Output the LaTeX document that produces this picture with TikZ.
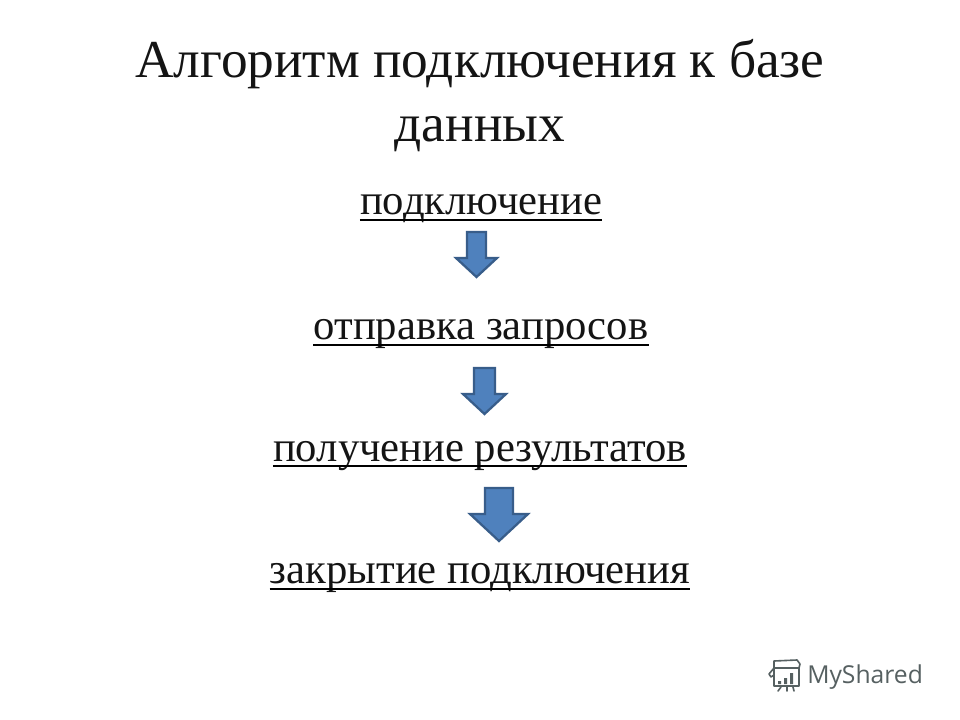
\documentclass[tikz,border=0pt]{standalone}
\usepackage{fontspec}
\setmainfont{Liberation Serif}
\newfontfamily\logofont{Open Sans}
\tikzset{
  x=0.75pt,y=-0.75pt,
  titletext/.style={inner sep=0pt,anchor=base,font=\fontsize{40}{40}\selectfont,text=black!92},
  steptext/.style={inner sep=0pt,anchor=base,font=\fontsize{32}{32}\selectfont,text=black!92},
  ruleline/.style={draw=black,line width=1.5pt},
  blockarrow/.style={fill=arrowfill,draw=arrowline,line width=1.7pt,line join=miter},
  logoline/.style={draw=logogray,line width=1.2pt,line cap=round,line join=round}
}
\definecolor{arrowfill}{HTML}{4F81BD}
\definecolor{arrowline}{HTML}{385D8A}
\definecolor{logogray}{HTML}{566061}
\begin{document}
\begin{tikzpicture}
\useasboundingbox (0,0) rectangle (960,720);
\fill[white] (0,0) rectangle (960,720);
\node[titletext] (t1) at (480,78) {Алгоритм подключения к базе};
\node[titletext] (t2) at (480,142) {данных};
\node[steptext] (s1) at (481,215) {подключение};
\node[steptext] (s2) at (481,339.5) {отправка запросов};
\node[steptext] (s3) at (480,461) {получение результатов};
\node[steptext] (s4) at (480,583) {закрытие подключения};
\foreach \n/\g in {s1/3.75pt,s2/3.75pt,s3/3.75pt,s4/4.5pt}
  \draw[ruleline] ([yshift=-\g]\n.base west) -- ([yshift=-\g]\n.base east);
\draw[blockarrow] (467,232) -- (486,232) -- (486,258) -- (497,258) -- (476.5,277) -- (456,258) -- (467,258) -- cycle;
\draw[blockarrow] (474,368) -- (495,368) -- (495,394) -- (506,394) -- (484.5,414) -- (463,394) -- (474,394) -- cycle;
\draw[blockarrow] (485,488) -- (513,488) -- (513,514) -- (528,514) -- (499,541) -- (470,514) -- (485,514) -- cycle;
% logo
\draw[logoline] (774,668) -- (769,674) -- (771,677) -- (774,675);
\draw[logoline] (774,668) -- (774,661) -- (797,660) -- (800,664) -- (799,668);
\draw[logoline] (774,668) -- (799,668) -- (799,686) -- (774,686) -- cycle;
\fill[logogray] (778,681) rectangle (781,684) (784,678) rectangle (787,684) (790,673) rectangle (793,684);
\draw[logoline] (781,687) -- (778,691) (787,687) -- (787,691) (793,687) -- (794,691);
\node[inner sep=0pt,anchor=base west,font=\logofont\fontsize{18.5}{18.5}\selectfont,text=logogray] (logo) at (807,683) {MyShared};
\end{tikzpicture}
\end{document}
